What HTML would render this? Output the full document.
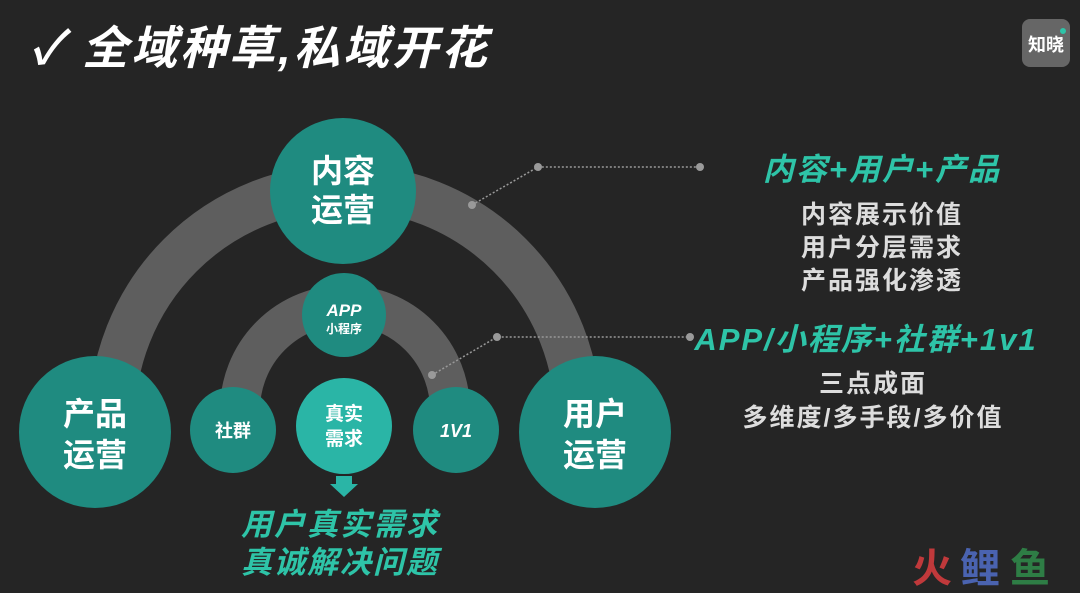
<!DOCTYPE html>
<html><head><meta charset="utf-8"><style>
html,body{margin:0;padding:0;background:#252525;}
svg{display:block;}
text{font-family:"Liberation Sans","Noto Sans CJK SC",sans-serif;font-weight:bold;}
</style></head><body>
<svg width="1080" height="593" viewBox="0 0 1080 593" xmlns="http://www.w3.org/2000/svg">
<rect width="1080" height="593" fill="#252525"/>
<text x="30" y="64" fill="#fff" font-size="46" font-style="italic" letter-spacing="3">✓ 全域种草,私域开花</text>
<rect x="1022" y="19" width="48" height="48" rx="8" fill="#666"/>
<text x="1046" y="51" fill="#fff" font-size="18" text-anchor="middle">知晓</text>
<circle cx="1063" cy="31" r="3" fill="#2ec4a8"/>
<path d="M112 420 A233 233 0 0 1 578 420" fill="none" stroke="#5e5e5e" stroke-width="46"/>
<path d="M240 410 A105 105 0 0 1 450 410" fill="none" stroke="#5e5e5e" stroke-width="40"/>
<g stroke="#999" stroke-width="1.5" stroke-dasharray="2 2" fill="none">
<polyline points="472,205 538,167 700,167"/>
<polyline points="432,375 497,337 690,337"/>
</g>
<g fill="#9a9a9a"><circle cx="472" cy="205" r="4"/><circle cx="538" cy="167" r="4"/><circle cx="700" cy="167" r="4"/>
<circle cx="432" cy="375" r="4"/><circle cx="497" cy="337" r="4"/><circle cx="690" cy="337" r="4"/></g>
<g fill="#1f8b80">
<circle cx="343" cy="191" r="73"/>
<circle cx="95" cy="432" r="76"/>
<circle cx="595" cy="432" r="76"/>
<circle cx="344" cy="315" r="42"/>
<circle cx="233" cy="430" r="43"/>
<circle cx="456" cy="430" r="43"/>
</g>
<circle cx="344" cy="426" r="48" fill="#2ab5a6"/>
<polygon points="336,476 352,476 352,484 358,484 344,497 330,484 336,484" fill="#2ab5a6"/>
<g fill="#fff" text-anchor="middle">
<text x="343" y="182" font-size="32">内容</text><text x="343" y="221" font-size="32">运营</text>
<text x="95" y="425" font-size="32">产品</text><text x="95" y="466" font-size="32">运营</text>
<text x="595" y="425" font-size="32">用户</text><text x="595" y="466" font-size="32">运营</text>
<text x="344" y="316" font-size="17" font-style="italic">APP</text><text x="344" y="333" font-size="12">小程序</text>
<text x="233" y="437" font-size="18">社群</text>
<text x="456" y="437" font-size="18" font-style="italic">1V1</text>
<text x="344" y="420" font-size="19">真实</text><text x="344" y="445" font-size="19">需求</text>
</g>
<g fill="#2ec4a8" text-anchor="middle" font-style="italic">
<text x="340" y="535" font-size="31" letter-spacing="2">用户真实需求</text>
<text x="340" y="573" font-size="31" letter-spacing="2">真诚解决问题</text>
<text x="882" y="180" font-size="31" letter-spacing="2">内容+用户+产品</text>
<text x="866" y="350" font-size="31" letter-spacing="2">APP/小程序+社群+1v1</text>
</g>
<g fill="#ddd" text-anchor="middle" font-size="25" letter-spacing="2">
<text x="882" y="223">内容展示价值</text>
<text x="882" y="256">用户分层需求</text>
<text x="882" y="289">产品强化渗透</text>
<text x="873" y="392">三点成面</text>
<text x="873" y="426">多维度/多手段/多价值</text>
</g>
<text x="912" y="582" font-size="40" fill="#c0393b">火</text>
<text x="960" y="582" font-size="40" fill="#4a63b0">鲤</text>
<text x="1010" y="582" font-size="40" fill="#2e7d45">鱼</text>
</svg>
</body></html>
